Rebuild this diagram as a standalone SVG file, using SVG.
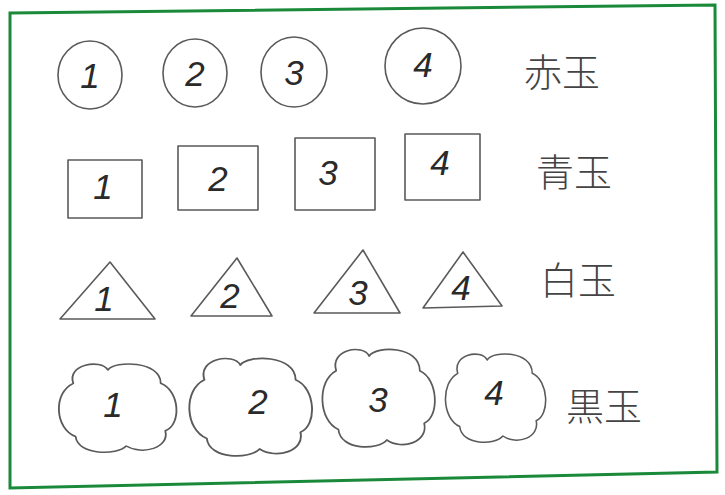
<svg xmlns="http://www.w3.org/2000/svg" width="725" height="495" viewBox="0 0 725 495">
<style>
.sh{fill:none;stroke:#5a5a5a;stroke-width:1.6;stroke-linejoin:round;stroke-linecap:round}
.num{font-family:"Liberation Sans",sans-serif;font-style:italic;font-size:35px;fill:#2a2a2a;text-anchor:middle;dominant-baseline:central;font-weight:normal}
.lbl{font-family:"Noto Sans CJK JP",sans-serif;font-size:38px;fill:#444;font-weight:300}
</style>
<defs>
<path id="cloud" d="M -8,-40 C -2,-50 38,-50 38,-26 C 55,-18 56,18 42,24 C 46,42 22,50 8,40 C 0,50 -34,50 -36,30 C -54,22 -56,-16 -38,-26 C -44,-46 -14,-52 -8,-40 Z"/>
</defs>
<rect width="725" height="495" fill="#ffffff"/>
<polygon points="10,13 715,5 717,472 10,488" fill="none" stroke="#1a8a3a" stroke-width="3"/>

<g id="red1"><ellipse class="sh" cx="90" cy="75" rx="32" ry="34"/><text class="num" x="90" y="75">1</text></g>
<g id="red2"><ellipse class="sh" cx="195" cy="73" rx="32" ry="34"/><text class="num" x="195" y="73">2</text></g>
<g id="red3"><ellipse class="sh" cx="294" cy="72" rx="33" ry="35"/><text class="num" x="294" y="72">3</text></g>
<g id="red4"><ellipse class="sh" cx="423" cy="66" rx="38" ry="38"/><text class="num" x="423" y="64">4</text></g>
<g id="redlabel"><text class="lbl" x="524" y="86">赤玉</text></g>

<g id="blue1"><rect class="sh" x="68" y="160" width="74" height="58"/><text class="num" x="103" y="186">1</text></g>
<g id="blue2"><rect class="sh" x="178" y="146" width="80" height="64"/><text class="num" x="218" y="178">2</text></g>
<g id="blue3"><rect class="sh" x="295" y="138" width="80" height="72"/><text class="num" x="328" y="172">3</text></g>
<g id="blue4"><rect class="sh" x="405" y="134" width="75" height="66"/><text class="num" x="440" y="162">4</text></g>
<g id="bluelabel"><text class="lbl" x="536" y="186">青玉</text></g>

<g id="white1"><polygon class="sh" points="110,262 155,319 60,319"/><text class="num" x="104" y="298">1</text></g>
<g id="white2"><polygon class="sh" points="237,258 272,316 191,316"/><text class="num" x="230" y="295">2</text></g>
<g id="white3"><polygon class="sh" points="363,250 400,313 314,313"/><text class="num" x="358" y="292">3</text></g>
<g id="white4"><polygon class="sh" points="463,252 502,306 423,308"/><text class="num" x="461" y="287">4</text></g>
<g id="whitelabel"><text class="lbl" x="540" y="294">白玉</text></g>

<g id="black1"><use href="#cloud" class="sh" transform="translate(117,408) scale(1.15,0.95)"/><text class="num" x="113" y="404">1</text></g>
<g id="black2"><use href="#cloud" class="sh" transform="translate(250,407) scale(1.2,1.05)"/><text class="num" x="258" y="401">2</text></g>
<g id="black3"><use href="#cloud" class="sh" transform="translate(378,398) scale(1.1,1.05)"/><text class="num" x="378" y="399">3</text></g>
<g id="black4"><use href="#cloud" class="sh" transform="translate(495,398) scale(0.98,0.95)"/><text class="num" x="494" y="392">4</text></g>
<g id="blacklabel"><text class="lbl" x="566" y="420">黒玉</text></g>
</svg>
